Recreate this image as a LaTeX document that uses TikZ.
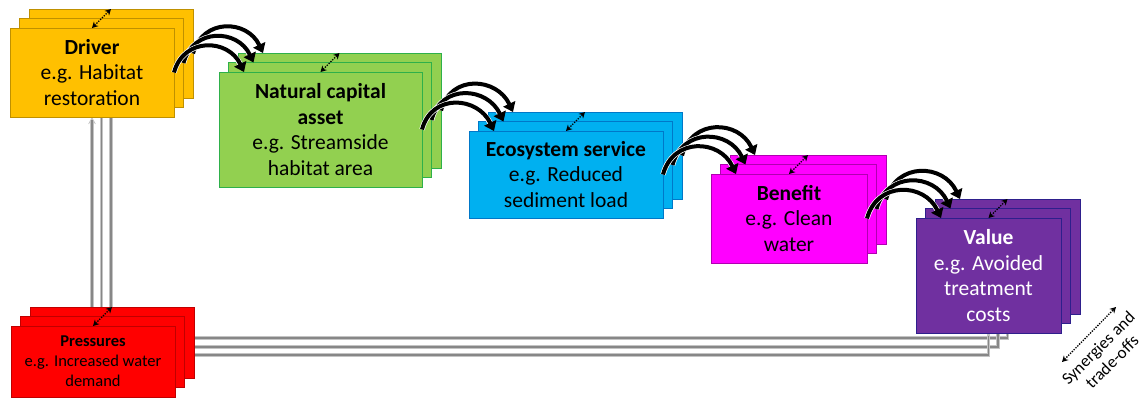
\documentclass[tikz,border=0pt]{standalone}
\usepackage{fontspec}
\setmainfont{Carlito}
\usetikzlibrary{arrows.meta,calc,backgrounds}

\definecolor{drvfill}{HTML}{FFC000}\definecolor{drvline}{HTML}{BF9000}
\definecolor{ncafill}{HTML}{92D050}\definecolor{ncaline}{HTML}{2EB04A}
\definecolor{ecofill}{HTML}{00B0F0}\definecolor{ecoline}{HTML}{0078C8}
\definecolor{benfill}{HTML}{FF00FF}\definecolor{benline}{HTML}{B000B0}
\definecolor{valfill}{HTML}{7030A0}\definecolor{valline}{HTML}{2E1F8C}
\definecolor{prsfill}{HTML}{FF0000}\definecolor{prsline}{HTML}{C00000}
\definecolor{pipeouter}{HTML}{C4C4C4}\definecolor{pipeinner}{HTML}{878787}

\tikzset{
  tierbox/.style={rectangle, anchor=north west, line width=0.9pt, inner sep=2pt,
    outer sep=0pt, align=center, font=\fontsize{21.5}{25.5}\selectfont},
  drvbox/.style={fill=drvfill, draw=drvline},
  ncabox/.style={fill=ncafill, draw=ncaline},
  ecobox/.style={fill=ecofill, draw=ecoline},
  benbox/.style={fill=benfill, draw=benline},
  valbox/.style={fill=valfill, draw=valline, text=white},
  prsbox/.style={fill=prsfill, draw=prsline, font=\fontsize{16.5}{20}\selectfont},
  flowarrow/.style={draw=black, line width=4pt, -{Triangle[length=9pt,width=13pt]},
    preaction={draw=white, line width=5.4pt, -, shorten >=7pt}},
  synarrow/.style={draw=black, line width=1.35pt, dash pattern=on 1.3pt off 1.3pt,
    {Stealth[length=6pt,width=6.5pt]}-{Stealth[length=6pt,width=6.5pt]}},
  pipe/.style={draw=pipeouter, line width=3.6pt,
    postaction={draw=pipeinner, line width=1.4pt, -, shorten >=3pt}},
  pipehead/.style={-{Stealth[length=7pt,width=7.5pt]}},
  legendtext/.style={font=\fontsize{17}{19.5}\selectfont, align=center, rotate=45,
    inner sep=0pt},
}

% three stacked cards: back (-3), middle (-2), front (-1, labelled)
\newcommand\tierstack[7]{%
  \node[tierbox,#6,minimum width=#4,minimum height=#5] (#1-3) at ({#2+19},{#3-19}) {};
  \node[tierbox,#6,minimum width=#4,minimum height=#5] (#1-2) at ({#2+9.5},{#3-9.5}) {};
  \node[tierbox,#6,minimum width=#4,minimum height=#5] (#1-1) at (#2,#3) {#7};
}
% three curved flow arrows from one stack to the next, back ones first
\newcommand\flowlinks[2]{%
  \foreach \k in {3,2,1}
    \draw[flowarrow] (#1-\k.east) to[out=75,in=115,looseness=1.35]
      ($(#2-\k.north west)+(25,0)$);
}

\begin{document}
\begin{tikzpicture}[x=1pt,y=-1pt]
\useasboundingbox (0,0) rectangle (1144,398);

\tierstack{drv}{10}{28}{164pt}{89pt}{drvbox}{\textbf{Driver}\\e.g. Habitat\\restoration}
\tierstack{prs}{11}{326}{164pt}{71pt}{prsbox}{\textbf{Pressures}\\e.g. Increased  water\\demand}
\tierstack{nca}{219}{72}{203pt}{115pt}{ncabox}{\textbf{Natural capital}\\\textbf{asset}\\e.g. Streamside\\habitat area}
\tierstack{eco}{469}{131}{194pt}{87pt}{ecobox}{\textbf{Ecosystem service}\\e.g. Reduced\\sediment load}
\tierstack{ben}{711}{174}{156pt}{89pt}{benbox}{\textbf{Benefit}\\e.g. Clean\\water}
\tierstack{val}{916}{218}{145pt}{115pt}{valbox}{\textbf{Value}\\e.g. Avoided\\treatment\\costs}

% pressure pipes run behind the cards
\begin{scope}[on background layer]
  \draw[pipe] (drv-3.south |- prs-3.north) -- (drv-3.south);
  \draw[pipe] (drv-2.south |- prs-3.north) -- (drv-2.south);
  \draw[pipe,pipehead] (drv-1.south |- prs-3.north) -- (drv-1.south);
  \draw[pipe] ($(prs-3.north east)+(0,31)$) -| (val-3.south);
  \draw[pipe] ($(prs-3.north east)+(0,40)$) -| (val-2.south);
  \draw[pipe] ($(prs-3.north east)+(0,48)$) -| (val-1.south);
\end{scope}

% causal chain
\flowlinks{drv}{nca}
\flowlinks{nca}{eco}
\flowlinks{eco}{ben}
\flowlinks{ben}{val}

% synergies and trade-offs within each stack
\foreach \s in {drv,prs,nca,eco,ben,val}
  \draw[synarrow] (\s-1.north) -- (\s-3.north);

% legend
\coordinate (legA) at (1062,362);
\coordinate (legB) at (1116,307);
\draw[synarrow] (legA) -- (legB);
\node[legendtext] (legend) at (1105,355) {Synergies and\\trade-offs};

\end{tikzpicture}
\end{document}
